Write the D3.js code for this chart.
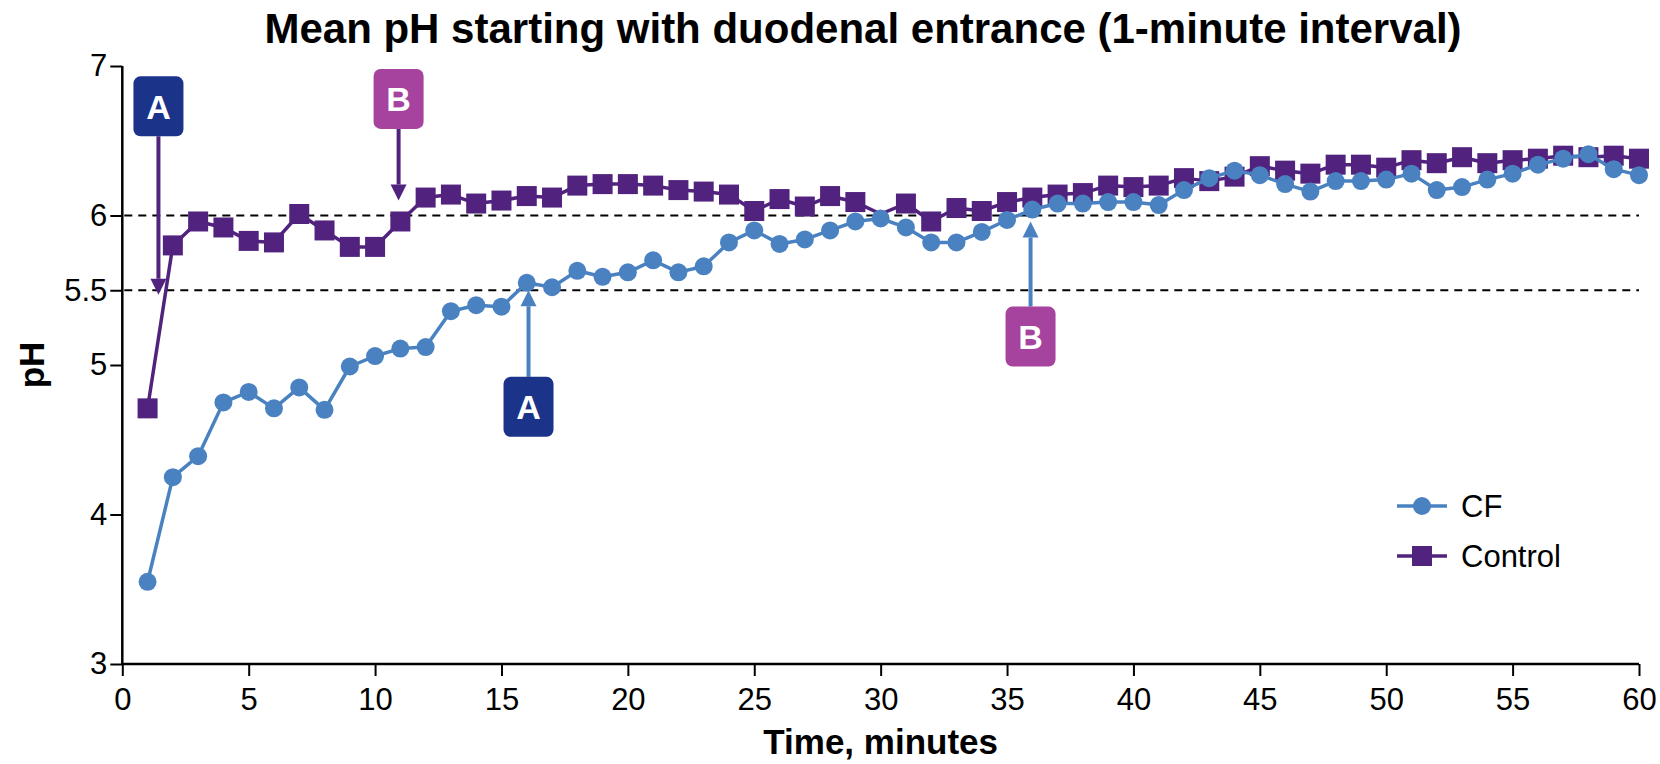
<!DOCTYPE html>
<html>
<head>
<meta charset="utf-8">
<script src="https://cdn.jsdelivr.net/npm/d3@7"></script>
<style>
    html, body { margin: 0; padding: 0; background: #fff; }
    #chart { width: 1660px; height: 764px; }
    text { font-family: "Liberation Sans", Arial, Helvetica, sans-serif; }
</style>
</head>
<body>
<div id="chart"></div>
<script>
// minutes after duodenal entrance
var minutes = [1, 2, 3, 4, 5, 6, 7, 8, 9, 10, 11, 12, 13, 14, 15, 16, 17, 18, 19, 20,
    21, 22, 23, 24, 25, 26, 27, 28, 29, 30, 31, 32, 33, 34, 35, 36, 37, 38, 39, 40,
    41, 42, 43, 44, 45, 46, 47, 48, 49, 50, 51, 52, 53, 54, 55, 56, 57, 58, 59, 60];

var cfPh = [3.55, 4.25, 4.39, 4.75, 4.82, 4.71, 4.85, 4.70, 4.99, 5.06,
    5.11, 5.12, 5.36, 5.40, 5.39, 5.55, 5.52, 5.63, 5.59, 5.62,
    5.70, 5.62, 5.66, 5.82, 5.90, 5.81, 5.84, 5.90, 5.96, 5.98,
    5.92, 5.82, 5.82, 5.89, 5.97, 6.04, 6.08, 6.08, 6.09, 6.09,
    6.07, 6.17, 6.25, 6.30, 6.27, 6.21, 6.16, 6.23, 6.23, 6.24,
    6.28, 6.17, 6.19, 6.24, 6.28, 6.34, 6.38, 6.41, 6.31, 6.27];

var controlPh = [4.71, 5.80, 5.96, 5.92, 5.83, 5.82, 6.01, 5.90, 5.79, 5.79,
    5.96, 6.12, 6.14, 6.08, 6.10, 6.13, 6.12, 6.20, 6.21, 6.21,
    6.20, 6.17, 6.16, 6.14, 6.03, 6.11, 6.06, 6.13, 6.09, 6.01,
    6.08, 5.96, 6.05, 6.03, 6.09, 6.12, 6.14, 6.15, 6.20, 6.19,
    6.20, 6.25, 6.23, 6.26, 6.33, 6.30, 6.28, 6.34, 6.34, 6.32,
    6.37, 6.35, 6.39, 6.35, 6.37, 6.38, 6.40, 6.39, 6.40, 6.38];

// minute where the control marker is not drawn in the original
var controlHiddenMarkers = [30];

var xTicks = [0, 5, 10, 15, 20, 25, 30, 35, 40, 45, 50, 55, 60];
var yTicks = [3, 4, 5, 5.5, 6, 7];
var referenceLines = [5.5, 6];

var seriesNames = ["CF", "Control"];

// annotation boxes: letter, minute of arrow, pH of box centre, pH of arrow tip
var annotationLetters = ["A", "B", "A", "B"];
var annotationMinutes = [1.43, 10.93, 16.07, 35.93];
var annotationBoxPh = [6.73, 6.78, 4.72, 5.19];
var annotationTipPh = [5.47, 6.10, 5.50, 5.96];
var annotationSeries = ["Control", "Control", "CF", "CF"];

var PhChart;
(function (PhChart) {
    var Chart = (function () {
        function Chart() {
            this.buildScales();
            this.buildSvg();
            this.drawAxes();
            this.drawReferenceLines();
            this.drawControl();
            this.drawCf();
            this.drawAnnotations();
            this.drawLegend();
            this.drawTitles();
        }

        Chart.prototype.buildScales = function () {
            this.x = d3.scaleLinear().domain([0, 60]).range([Chart.left, Chart.right]);
            this.y = d3.scaleLinear().domain([3, 7]).range([Chart.bottom, Chart.top]);
        };

        Chart.prototype.buildSvg = function () {
            this.svg = d3.select("#chart").append("svg")
                .attr("width", Chart.width)
                .attr("height", Chart.height);
        };

        Chart.prototype.drawAxes = function () {
            var xAxis = d3.axisBottom(this.x).tickValues(xTicks).tickSize(12).tickPadding(12)
                .tickFormat(d3.format("d"));
            var yAxis = d3.axisLeft(this.y).tickValues(yTicks).tickSize(12).tickPadding(3)
                .tickFormat(function (d) { return String(d); });

            var gx = this.svg.append("g").attr("transform", "translate(0," + Chart.bottom + ")").call(xAxis);
            var gy = this.svg.append("g").attr("transform", "translate(" + Chart.left + ",0)").call(yAxis);

            [gx, gy].forEach(function (g) {
                g.select(".domain").attr("stroke", "#000").attr("stroke-width", 2.5);
                g.selectAll(".tick line").attr("stroke", "#000").attr("stroke-width", 2);
                g.selectAll(".tick text").attr("fill", "#000").attr("font-size", 31)
                    .attr("font-family", "Liberation Sans, Arial, sans-serif");
            });
            // d3 draws the outer ticks as part of the domain path; keep it a plain line
            gx.select(".domain").attr("d", "M" + Chart.left + ",0H" + Chart.right);
            gy.select(".domain").attr("d", "M0," + Chart.bottom + "V" + Chart.top);
        };

        Chart.prototype.drawReferenceLines = function () {
            var _this = this;
            this.svg.append("g").selectAll("line").data(referenceLines).enter().append("line")
                .attr("x1", Chart.left + 2)
                .attr("x2", Chart.right)
                .attr("y1", function (d) { return _this.y(d); })
                .attr("y2", function (d) { return _this.y(d); })
                .attr("stroke", "#000")
                .attr("stroke-width", 2)
                .attr("stroke-dasharray", "8,6");
        };

        Chart.prototype.series = function (values) {
            return minutes.map(function (m, i) { return { minute: m, ph: values[i] }; });
        };

        Chart.prototype.drawLine = function (points, color) {
            var _this = this;
            var line = d3.line()
                .x(function (d) { return _this.x(d.minute); })
                .y(function (d) { return _this.y(d.ph); });
            this.svg.append("path").datum(points)
                .attr("fill", "none")
                .attr("stroke", color)
                .attr("stroke-width", 3.5)
                .attr("stroke-linejoin", "round")
                .attr("d", line);
        };

        Chart.prototype.drawControl = function () {
            var _this = this;
            var points = this.series(controlPh);
            this.drawLine(points, Chart.controlColor);
            var s = Chart.squareSize;
            this.svg.append("g").selectAll("rect")
                .data(points.filter(function (d) { return controlHiddenMarkers.indexOf(d.minute) < 0; }))
                .enter().append("rect")
                .attr("x", function (d) { return _this.x(d.minute) - s / 2; })
                .attr("y", function (d) { return _this.y(d.ph) - s / 2; })
                .attr("width", s)
                .attr("height", s)
                .attr("fill", Chart.controlColor);
        };

        Chart.prototype.drawCf = function () {
            var _this = this;
            var points = this.series(cfPh);
            this.drawLine(points, Chart.cfColor);
            this.svg.append("g").selectAll("circle").data(points).enter().append("circle")
                .attr("cx", function (d) { return _this.x(d.minute); })
                .attr("cy", function (d) { return _this.y(d.ph); })
                .attr("r", Chart.circleRadius)
                .attr("fill", Chart.cfColor);
        };

        Chart.prototype.drawAnnotations = function () {
            var _this = this;
            var bw = 50, bh = 60, head = 16;
            annotationLetters.forEach(function (letter, i) {
                var cx = _this.x(annotationMinutes[i]);
                var cy = _this.y(annotationBoxPh[i]);
                var tip = _this.y(annotationTipPh[i]);
                var arrowColor = annotationSeries[i] === "CF" ? Chart.cfColor : Chart.controlColor;
                var boxColor = letter === "A" ? Chart.boxAColor : Chart.boxBColor;
                var down = tip > cy;
                var start = down ? cy + bh / 2 : cy - bh / 2;
                var base = down ? tip - head : tip + head;

                var g = _this.svg.append("g");
                g.append("line")
                    .attr("x1", cx).attr("x2", cx)
                    .attr("y1", start).attr("y2", base)
                    .attr("stroke", arrowColor)
                    .attr("stroke-width", 4);
                g.append("path")
                    .attr("d", "M" + (cx - 8) + "," + base + "L" + (cx + 8) + "," + base + "L" + cx + "," + tip + "Z")
                    .attr("fill", arrowColor);
                g.append("rect")
                    .attr("x", cx - bw / 2).attr("y", cy - bh / 2)
                    .attr("width", bw).attr("height", bh)
                    .attr("rx", 7)
                    .attr("fill", boxColor);
                g.append("text")
                    .attr("x", cx).attr("y", cy)
                    .attr("dy", "0.36em")
                    .attr("text-anchor", "middle")
                    .attr("font-size", 34)
                    .attr("font-weight", "bold")
                    .attr("fill", "#fff")
                    .text(letter);
            });
        };

        Chart.prototype.drawLegend = function () {
            var lx = 1397, ly = 506, gap = 50;
            var g = this.svg.append("g");
            seriesNames.forEach(function (name, i) {
                var color = name === "CF" ? Chart.cfColor : Chart.controlColor;
                var yy = ly + i * gap;
                g.append("line")
                    .attr("x1", lx).attr("x2", lx + 50)
                    .attr("y1", yy).attr("y2", yy)
                    .attr("stroke", color).attr("stroke-width", 3.5);
                if (name === "CF") {
                    g.append("circle").attr("cx", lx + 25).attr("cy", yy)
                        .attr("r", Chart.circleRadius).attr("fill", color);
                } else {
                    g.append("rect").attr("x", lx + 25 - Chart.squareSize / 2).attr("y", yy - Chart.squareSize / 2)
                        .attr("width", Chart.squareSize).attr("height", Chart.squareSize).attr("fill", color);
                }
                g.append("text")
                    .attr("x", lx + 64).attr("y", yy)
                    .attr("dy", "0.36em")
                    .attr("font-size", 31)
                    .attr("fill", "#000")
                    .text(name);
            });
        };

        Chart.prototype.drawTitles = function () {
            this.svg.append("text")
                .attr("x", 863).attr("y", 43)
                .attr("text-anchor", "middle")
                .attr("font-size", 42)
                .attr("font-weight", "bold")
                .text("Mean pH starting with duodenal entrance (1-minute interval)");

            this.svg.append("text")
                .attr("x", (Chart.left + Chart.right) / 2).attr("y", 754)
                .attr("text-anchor", "middle")
                .attr("font-size", 35)
                .attr("font-weight", "bold")
                .text("Time, minutes");

            this.svg.append("text")
                .attr("transform", "translate(44," + this.y(5) + ") rotate(-90)")
                .attr("text-anchor", "middle")
                .attr("font-size", 35)
                .attr("font-weight", "bold")
                .text("pH");
        };

        Chart.width = 1660;
        Chart.height = 764;
        Chart.left = 122.3;
        Chart.right = 1639;
        Chart.top = 66;
        Chart.bottom = 664;
        Chart.cfColor = "#4a82c1";
        Chart.controlColor = "#51237e";
        Chart.boxAColor = "#1b3389";
        Chart.boxBColor = "#a5439f";
        Chart.circleRadius = 9;
        Chart.squareSize = 20;
        return Chart;
    })();
    PhChart.Chart = Chart;
})(PhChart || (PhChart = {}));

var chart = new PhChart.Chart();
</script>
</body>
</html>
